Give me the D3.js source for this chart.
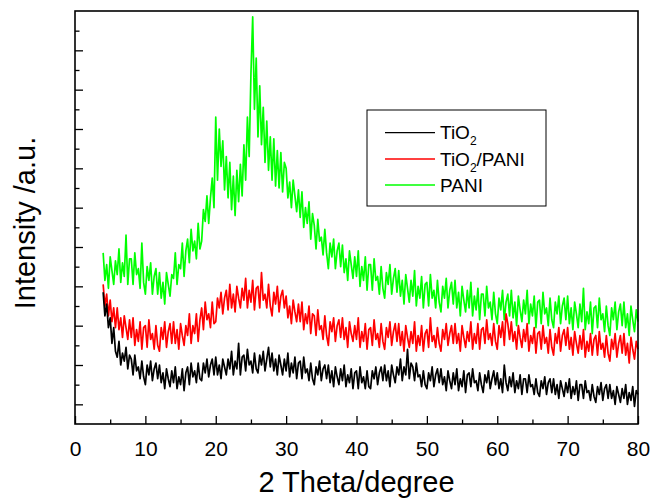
<!DOCTYPE html>
<html>
<head>
<meta charset="utf-8">
<script src="https://cdn.jsdelivr.net/npm/d3@7"></script>
<style>
  body { margin: 0; background: #fff; }
  svg { font-family: "Liberation Sans", Arial, sans-serif; }
</style>
</head>
<body>
<div id="chart"></div>
<script>
// 2 theta grid: 4 to 80 degree, one reading every 0.25 degree
const twoTheta = d3.range(4, 80.001, 0.25);

// Intensity readings (arbitrary units, offset stacked)
// each row covers 2 degrees
const tio2 = [
  5.7, 4.5, 5.1, 3.9, 4.4, 3.1, 3.9, 2.7,
  2.4, 3.2, 2.0, 2.6, 2.2, 2.9, 1.8, 2.5,
  2.3, 1.5, 2.5, 1.7, 1.9, 1.3, 2.2, 1.4,
  1.0, 2.0, 1.5, 2.2, 1.2, 1.8, 2.1, 1.3,
  2.0, 1.1, 1.6, 0.8, 1.8, 1.3, 0.9, 1.7,
  1.1, 1.9, 0.8, 1.4, 1.0, 1.8, 0.7, 1.6,
  1.9, 1.0, 2.1, 1.4, 1.7, 1.1, 2.1, 1.3,
  1.2, 2.1, 1.6, 2.3, 1.4, 2.0, 2.3, 1.5,
  2.4, 1.5, 2.0, 1.3, 2.3, 1.9, 1.5, 2.3,
  1.8, 2.7, 1.5, 2.2, 1.8, 3.1, 1.5, 2.4,
  2.5, 1.7, 2.8, 2.0, 2.2, 1.6, 2.6, 1.8,
  1.6, 2.5, 2.0, 2.7, 1.7, 2.3, 2.9, 1.9,
  2.6, 1.7, 2.3, 1.5, 2.5, 2.0, 1.5, 2.3,
  1.7, 2.6, 1.4, 2.1, 1.6, 2.4, 1.3, 2.1,
  2.2, 1.3, 2.4, 1.6, 1.8, 1.2, 2.1, 1.3,
  1.0, 1.9, 1.5, 2.2, 1.2, 1.8, 2.0, 1.3,
  2.0, 1.1, 1.7, 0.9, 1.9, 1.4, 1.0, 1.8,
  1.2, 2.0, 0.9, 1.5, 1.1, 1.8, 0.8, 1.6,
  1.7, 0.8, 1.9, 1.1, 1.4, 0.8, 1.7, 0.9,
  0.8, 1.7, 1.3, 1.9, 1.0, 1.6, 1.9, 1.2,
  2.0, 1.2, 1.7, 0.9, 2.0, 1.5, 1.1, 1.9,
  1.5, 2.3, 1.2, 1.9, 1.5, 2.8, 1.3, 2.1,
  1.9, 1.2, 2.1, 1.4, 1.5, 0.9, 1.7, 1.0,
  0.8, 1.6, 1.2, 1.9, 0.9, 1.5, 1.8, 1.1,
  1.8, 1.0, 1.4, 0.7, 1.7, 1.2, 0.8, 1.6,
  1.0, 1.8, 0.7, 1.3, 0.9, 1.7, 0.6, 1.5,
  1.6, 0.9, 1.8, 1.1, 1.2, 0.7, 1.6, 1.0,
  0.6, 1.5, 1.1, 1.7, 0.8, 1.3, 1.7, 1.0,
  1.6, 0.8, 1.3, 0.6, 2.0, 1.1, 0.7, 1.4,
  0.9, 1.6, 0.6, 1.2, 0.8, 1.5, 0.5, 1.3,
  1.3, 0.6, 1.5, 0.9, 1.0, 0.5, 1.3, 0.6,
  0.4, 1.2, 0.8, 1.4, 0.5, 1.1, 1.3, 0.6,
  1.3, 0.5, 1.0, 0.3, 1.2, 0.8, 0.4, 1.1,
  0.6, 1.3, 0.3, 0.9, 0.5, 1.2, 0.2, 1.0,
  1.0, 0.3, 1.2, 0.6, 0.7, 0.2, 1.0, 0.4,
  0.1, 0.9, 0.5, 1.1, 0.2, 0.8, 1.0, 0.3,
  1.0, 0.3, 0.7, 0.0, 0.9, 0.5, 0.1, 0.8,
  0.3, 1.0, 0.0, 0.6, 0.2, 0.9, -0.1, 0.7,
  0.5
];

const tio2Pani = [
  6.1, 5.0, 5.6, 4.5, 5.3, 4.2, 4.9, 3.9,
  4.9, 3.8, 4.4, 3.4, 4.5, 3.9, 3.3, 4.3,
  3.4, 4.4, 3.0, 3.8, 3.2, 4.2, 2.8, 3.9,
  4.0, 2.9, 4.3, 3.3, 3.6, 2.8, 4.0, 3.0,
  2.7, 3.9, 3.3, 4.2, 2.9, 3.7, 4.1, 3.1,
  4.2, 3.1, 3.8, 2.8, 4.1, 3.5, 3.0, 4.0,
  3.5, 4.6, 3.1, 4.0, 3.6, 4.6, 3.2, 4.3,
  4.9, 3.8, 5.2, 4.3, 4.6, 3.9, 5.2, 4.1,
  4.2, 5.4, 4.9, 5.7, 4.6, 5.4, 5.8, 4.8,
  6.1, 4.9, 5.6, 4.7, 6.0, 5.4, 4.9, 5.9,
  5.3, 6.4, 4.9, 5.8, 5.2, 6.3, 4.8, 5.9,
  6.0, 4.9, 6.7, 5.3, 5.6, 4.9, 6.1, 5.0,
  4.5, 5.7, 5.1, 6.0, 4.7, 5.5, 5.8, 4.9,
  5.5, 4.4, 5.0, 4.1, 5.3, 4.7, 4.2, 5.1,
  4.2, 5.2, 3.8, 4.6, 4.1, 5.0, 3.6, 4.6,
  4.5, 3.5, 4.8, 3.8, 4.0, 3.3, 4.5, 3.5,
  3.0, 4.2, 3.7, 4.4, 3.2, 4.0, 4.3, 3.4,
  4.4, 3.3, 3.9, 2.9, 4.2, 3.6, 3.2, 4.0,
  3.3, 4.4, 2.9, 3.7, 3.2, 4.1, 2.8, 3.8,
  3.9, 3.0, 4.3, 3.3, 3.6, 2.9, 4.1, 3.2,
  2.8, 3.9, 3.4, 4.2, 3.0, 3.7, 4.1, 3.2,
  4.1, 3.0, 3.7, 2.7, 4.0, 3.4, 2.9, 3.7,
  3.1, 4.2, 2.7, 3.5, 3.0, 4.0, 2.7, 3.6,
  3.8, 2.9, 4.4, 3.2, 3.5, 2.9, 3.9, 3.1,
  2.7, 3.8, 3.3, 4.1, 3.0, 3.6, 4.0, 3.1,
  4.1, 3.1, 3.6, 2.7, 4.0, 3.4, 2.9, 3.7,
  3.2, 4.2, 2.8, 3.6, 3.1, 4.1, 2.8, 3.8,
  3.9, 3.1, 4.3, 3.3, 3.6, 3.0, 4.1, 3.2,
  2.8, 4.0, 3.4, 4.2, 3.0, 4.6, 4.1, 3.3,
  4.2, 3.2, 3.7, 2.8, 4.0, 3.4, 2.9, 3.8,
  3.2, 4.1, 2.7, 3.5, 3.1, 3.9, 2.6, 3.6,
  3.7, 2.8, 4.0, 3.1, 3.4, 2.6, 3.8, 2.9,
  2.5, 3.6, 3.1, 3.9, 2.7, 3.5, 3.8, 3.0,
  3.9, 2.8, 3.4, 2.5, 3.7, 3.1, 2.6, 3.5,
  2.8, 3.8, 2.4, 3.2, 2.7, 3.6, 2.5, 3.3,
  3.5, 2.5, 3.7, 2.8, 3.1, 2.4, 3.5, 2.6,
  2.2, 3.3, 2.8, 3.6, 2.4, 3.1, 3.5, 2.6,
  3.6, 2.5, 3.1, 2.1, 3.4, 2.8, 2.3, 3.2,
  2.8
];

const pani = [
  7.7, 6.3, 7.1, 5.9, 7.5, 6.8, 6.1, 7.3,
  6.6, 7.9, 6.2, 7.2, 6.5, 8.6, 6.1, 7.4,
  7.4, 6.1, 7.7, 6.6, 6.9, 5.9, 8.2, 6.2,
  5.6, 7.0, 6.3, 7.2, 5.6, 6.5, 6.9, 5.6,
  6.7, 5.4, 6.2, 5.1, 6.7, 6.1, 5.5, 6.6,
  6.4, 7.7, 6.1, 7.1, 6.9, 8.2, 6.5, 7.8,
  8.4, 7.2, 8.9, 7.8, 8.3, 7.4, 9.2, 7.9,
  8.3, 9.9, 9.3, 10.6, 9.2, 10.5, 11.5, 10.0,
  14.6, 11.4, 14.0, 12.1, 13.4, 10.9, 12.6, 10.5,
  12.3, 9.9, 11.6, 9.6, 11.9, 10.3, 12.2, 10.6,
  13.2, 11.4, 14.6, 12.6, 16.8, 19.7, 15.0, 17.6,
  13.6, 16.2, 13.2, 15.1, 12.3, 14.4, 11.9, 13.6,
  11.4, 13.5, 11.1, 12.9, 11.0, 12.8, 10.8, 12.3,
  12.0, 10.5, 11.3, 10.0, 11.4, 10.6, 9.8, 10.9,
  9.5, 10.8, 9.0, 10.0, 9.2, 10.3, 8.4, 9.7,
  9.1, 7.9, 9.4, 8.3, 8.5, 7.6, 8.9, 7.7,
  6.9, 8.2, 7.5, 8.4, 6.9, 7.8, 8.2, 7.0,
  8.1, 6.7, 7.4, 6.3, 7.8, 7.1, 6.4, 7.5,
  6.5, 7.8, 6.0, 7.0, 6.3, 7.5, 5.8, 7.1,
  7.1, 5.8, 7.4, 6.3, 6.5, 5.6, 7.0, 5.9,
  5.4, 6.7, 6.1, 7.1, 5.6, 6.4, 6.9, 5.7,
  6.8, 5.5, 6.3, 5.1, 6.6, 5.9, 5.2, 6.3,
  5.5, 6.8, 5.0, 6.0, 5.4, 6.5, 4.9, 6.1,
  6.2, 5.0, 6.6, 5.4, 5.8, 4.9, 6.3, 5.2,
  4.7, 6.0, 5.4, 6.4, 4.9, 5.8, 6.2, 5.1,
  6.3, 4.9, 5.7, 4.5, 6.0, 5.3, 4.7, 5.8,
  4.9, 6.2, 4.5, 5.5, 4.8, 5.9, 4.3, 5.6,
  5.6, 4.5, 6.0, 4.9, 5.2, 4.3, 5.7, 4.6,
  4.1, 5.4, 4.8, 5.8, 4.3, 5.2, 5.6, 4.5,
  5.8, 4.4, 5.2, 4.0, 5.5, 4.8, 4.2, 5.3,
  4.6, 5.8, 4.1, 5.1, 4.5, 5.5, 3.9, 5.2,
  5.3, 4.1, 5.7, 4.6, 4.9, 4.0, 5.4, 4.3,
  3.9, 5.2, 4.6, 5.5, 4.1, 5.0, 5.4, 4.3,
  5.5, 4.1, 4.9, 3.8, 5.2, 4.6, 3.9, 5.1,
  4.2, 5.9, 3.8, 4.7, 4.1, 5.2, 3.6, 4.9,
  5.0, 3.9, 5.4, 4.3, 4.6, 3.7, 5.0, 4.0,
  3.5, 4.9, 4.3, 5.2, 3.8, 4.7, 5.1, 4.0,
  5.2, 3.9, 4.6, 3.5, 5.0, 4.3, 3.7, 4.8,
  4.2
];

const seriesNames = ["TiO2", "TiO2/PANI", "PANI"];
const seriesColors = ["#000000", "#ff0000", "#00ff00"];
const xTicks = [0, 10, 20, 30, 40, 50, 60, 70, 80];
const xMinorTicks = [5, 15, 25, 35, 45, 55, 65, 75];
const yTicks = [0, 2, 4, 6, 8, 10, 12, 14, 16, 18];
const yMinorTicks = [1, 3, 5, 7, 9, 11, 13, 15, 17, 19];

const width = 651, height = 498;
const margin = { top: 11, right: 13, bottom: 74, left: 75 };

const svg = d3.select("#chart")
  .append("svg")
  .attr("width", width)
  .attr("height", height);

const x = d3.scaleLinear()
  .domain([0, 80])
  .range([margin.left, width - margin.right]);

const y = d3.scaleLinear()
  .domain([-1, 20])
  .range([height - margin.bottom, margin.top]);

// curves, PANI drawn first so the others sit on top
const line = d3.line()
  .x((d, i) => x(twoTheta[i]))
  .y(d => y(d));

const allSeries = [tio2, tio2Pani, pani];
[2, 1, 0].forEach(k => {
  svg.append("path")
    .datum(allSeries[k])
    .attr("fill", "none")
    .attr("stroke", seriesColors[k])
    .attr("stroke-width", 1.7)
    .attr("stroke-linejoin", "round")
    .attr("d", line);
});

// x axis, ticks pointing inward
const xAxis = svg.append("g")
  .attr("transform", "translate(0," + y(-1) + ")")
  .call(d3.axisBottom(x).tickValues(xTicks).tickSize(-8).tickPadding(17).tickFormat(d3.format("d")));
svg.append("g")
  .attr("transform", "translate(0," + y(-1) + ")")
  .call(d3.axisBottom(x).tickValues(xMinorTicks).tickSize(-4.5).tickFormat(""));

// y axis, no labels
svg.append("g")
  .attr("transform", "translate(" + x(0) + ",0)")
  .call(d3.axisLeft(y).tickValues(yTicks).tickSize(-8).tickFormat(""));
svg.append("g")
  .attr("transform", "translate(" + x(0) + ",0)")
  .call(d3.axisLeft(y).tickValues(yMinorTicks).tickSize(-4.5).tickFormat(""));

svg.selectAll(".tick line").attr("stroke", "#000").attr("stroke-width", 1.3);
svg.selectAll(".domain").remove();
xAxis.selectAll(".tick text")
  .attr("font-size", 21)
  .attr("fill", "#000")
  .attr("font-family", "'Liberation Sans', Arial, sans-serif");

// plot frame
svg.append("rect")
  .attr("x", x(0))
  .attr("y", y(20))
  .attr("width", x(80) - x(0))
  .attr("height", y(-1) - y(20))
  .attr("fill", "none")
  .attr("stroke", "#000")
  .attr("stroke-width", 1.6);

// axis titles
svg.append("text")
  .attr("x", (x(0) + x(80)) / 2)
  .attr("y", 492)
  .attr("text-anchor", "middle")
  .attr("font-size", 29)
  .text("2 Theta/degree");

svg.append("text")
  .attr("transform", "translate(35," + 223 + ") rotate(-90)")
  .attr("text-anchor", "middle")
  .attr("font-size", 29)
  .text("Intensity /a.u.");

// legend
const legend = svg.append("g").attr("transform", "translate(367,110)");
legend.append("rect")
  .attr("width", 179)
  .attr("height", 96)
  .attr("fill", "#fff")
  .attr("stroke", "#000")
  .attr("stroke-width", 1);

const rowY = [22.7, 49, 75];
seriesNames.forEach((name, i) => {
  legend.append("line")
    .attr("x1", 18).attr("x2", 68)
    .attr("y1", rowY[i]).attr("y2", rowY[i])
    .attr("stroke", seriesColors[i])
    .attr("stroke-width", 1.3);
  const t = legend.append("text")
    .attr("x", 73)
    .attr("y", rowY[i] + 6.6)
    .attr("font-size", 19);
  if (name.startsWith("TiO2")) {
    t.append("tspan").text("TiO");
    t.append("tspan").attr("font-size", 12).attr("dy", 6).text("2");
    if (name.length > 4) t.append("tspan").attr("dy", -6).text(name.slice(4));
  } else {
    t.text(name);
  }
});
</script>
</body>
</html>
